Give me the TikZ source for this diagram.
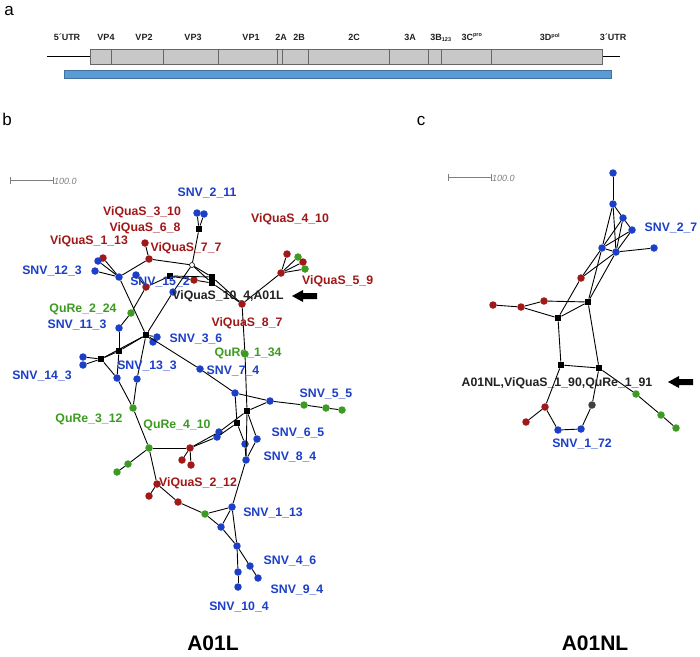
\documentclass[tikz,border=0pt]{standalone}
\usepackage{fontspec}
\setmainfont{Liberation Sans}
\definecolor{cblue}{HTML}{1C3FC8}
\definecolor{cred}{HTML}{A01818}
\definecolor{cgreen}{HTML}{3E9B22}
\definecolor{cgray}{HTML}{C8C8C8}
\definecolor{cbar}{HTML}{5B9BD5}
\definecolor{cbarb}{HTML}{41719C}
\definecolor{ctxt}{HTML}{222222}
\begin{document}
\begin{tikzpicture}[x=1pt,y=-1pt,
  dotb/.style={circle,fill=cblue,inner sep=0,minimum size=7.5pt},
  dotr/.style={circle,fill=cred,inner sep=0,minimum size=7.5pt},
  dotg/.style={circle,fill=cgreen,inner sep=0,minimum size=7.5pt},
  dotk/.style={circle,fill=black!75,inner sep=0,minimum size=7.5pt},
  dotw/.style={circle,draw=black,fill=white,line width=0.6pt,inner sep=0,minimum size=5pt},
  sq/.style={rectangle,fill=black,inner sep=0,minimum size=6.5pt},
  edge/.style={line width=0.9pt,black},
  lbl/.style={font=\fontsize{12.3}{12.3}\selectfont\bfseries,inner sep=0},
  lb/.style={lbl,text=cblue},
  lr/.style={lbl,text=cred},
  lg/.style={lbl,text=cgreen},
  lk/.style={lbl,text=ctxt},
  gl/.style={font=\fontsize{9}{9}\selectfont\bfseries,inner sep=0,text=ctxt},
  panel/.style={font=\fontsize{17}{17}\selectfont,inner sep=0},
  big/.style={font=\fontsize{21}{21}\selectfont\bfseries,inner sep=0},
  sbar/.style={draw=gray,line width=0.9pt},
  stxt/.style={font=\fontsize{9}{9}\selectfont\itshape,text=gray,inner sep=0,anchor=west}
]
\useasboundingbox (0,0) rectangle (700,656);
\fill[white] (0,0) rectangle (700,656);

% ---------------- panel a ----------------
\node[panel] (pa) at (9,11) {a};
\draw[line width=0.8pt] (47,56.5) -- (620,56.5);
\draw[fill=cgray,draw=black!60,line width=0.8pt] (90,49) rectangle (602,64);
\foreach \xx in {111,163.5,218,277,282,308,389,428,441,491}
  \draw[black!60,line width=0.8pt] (\xx,49) -- (\xx,64);
\draw[fill=cbar,draw=cbarb,line width=0.8pt] (64,70.5) rectangle (611,78);
\node[gl] (g1) at (67,37) {5´UTR};
\node[gl] (g2) at (106,37) {VP4};
\node[gl] (g3) at (144,37) {VP2};
\node[gl] (g4) at (193,37) {VP3};
\node[gl] (g5) at (251,37) {VP1};
\node[gl] (g6) at (281,37) {2A};
\node[gl] (g7) at (299,37) {2B};
\node[gl] (g8) at (354,37) {2C};
\node[gl] (g9) at (410,37) {3A};
\node[gl] (g10) at (441,37.5) {3B\textsubscript{\fontsize{5.5}{5.5}\selectfont 123}};
\node[gl] (g11) at (472,37) {3C\textsuperscript{\fontsize{5.5}{5.5}\selectfont pro}};
\node[gl] (g12) at (550,37) {3D\textsuperscript{\fontsize{5.5}{5.5}\selectfont pol}};
\node[gl] (g13) at (613,37) {3´UTR};

% ---------------- panel b ----------------
\node[panel] (pb) at (7,119) {b};
\draw[sbar] (10,180) -- (53,180) (10,176.5) -- (10,183.5) (53,176.5) -- (53,183.5);
\node[stxt] (sb) at (54,181.5) {100.0};

% nodes
\node[dotb] (b1) at (197,213) {};
\node[dotb] (b2) at (204,214) {};
\node[sq] (s1) at (199,229) {};
\node[dotw] (w1) at (192,265) {};
\node[dotr] (r1) at (145,243) {};
\node[dotr] (r2) at (149,259) {};
\node[dotr] (r3) at (103,258) {};
\node[dotb] (b3) at (98,261) {};
\node[dotb] (b4) at (95,271) {};
\node[dotb] (b5) at (119,277) {};
\node[dotb] (b6) at (136,275) {};
\node[dotr] (r4) at (146,287) {};
\node[sq] (s2) at (170,276) {};
\node[dotr] (r5) at (194,280) {};
\node[sq] (s3) at (212,277) {};
\node[sq] (s4) at (212,283) {};
\node[dotb] (b7) at (173,292) {};
\node[dotr] (r6) at (242,304) {};
\node[dotr] (r7) at (281,273) {};
\node[dotr] (r8) at (287,254) {};
\node[dotg] (gg1) at (298,257) {};
\node[dotr] (r9) at (303,262) {};
\node[dotg] (gg2) at (305,269) {};
\node[dotg] (gg3) at (131,313) {};
\node[dotb] (b8) at (119,328) {};
\node[sq] (s5) at (146,335) {};
\node[dotb] (b9) at (157,337) {};
\node[dotb] (b10) at (153,342) {};
\node[sq] (s6) at (119,351) {};
\node[sq] (s7) at (101,359) {};
\node[dotb] (b11) at (83,357) {};
\node[dotb] (b12) at (83,365) {};
\node[dotb] (b13) at (117,378) {};
\node[dotb] (b14) at (137,379) {};
\node[dotg] (gg4) at (133,408) {};
\node[dotb] (b15) at (200,369) {};
\node[dotg] (gg5) at (245,354) {};
\node[dotb] (b16) at (235,393) {};
\node[dotb] (b17) at (270,401) {};
\node[dotg] (gg6) at (304,405) {};
\node[dotg] (gg7) at (326,408) {};
\node[dotg] (gg8) at (342,410) {};
\node[sq] (s8) at (247,411) {};
\node[sq] (s9) at (237,423) {};
\node[dotb] (b18) at (219,432) {};
\node[dotb] (b19) at (217,437) {};
\node[dotr] (r10) at (190,448) {};
\node[dotr] (r11) at (182,460) {};
\node[dotr] (r12) at (191,465) {};
\node[dotg] (gg9) at (149,448) {};
\node[dotg] (gg10) at (128,464) {};
\node[dotg] (gg11) at (117,472) {};
\node[dotb] (b20) at (245,444) {};
\node[dotb] (b21) at (257,439) {};
\node[dotb] (b22) at (246,460) {};
\node[dotr] (r13) at (157,484) {};
\node[dotr] (r14) at (149,496) {};
\node[dotr] (r15) at (178,502) {};
\node[dotg] (gg12) at (205,514) {};
\node[dotb] (b23) at (232,507) {};
\node[dotb] (w2) at (221,527) {};
\node[dotb] (b24) at (237,546) {};
\node[dotb] (b25) at (250,566) {};
\node[dotb] (b26) at (258,578) {};
\node[dotb] (b27) at (238,572) {};
\node[dotb] (b28) at (238,587) {};

% edges
\draw[edge] (b5) -- (r3);
\draw[edge] (b5) -- (b3);
\draw[edge] (b5) -- (b4);
\draw[edge] (b5) -- (r2);
\draw[edge] (r2) -- (r1);
\draw[edge] (r2) -- (w1);
\draw[edge] (s1) -- (b1);
\draw[edge] (s1) -- (b2);
\draw[edge] (s1) -- (w1);
\draw[edge] (w1) -- (s3);
\draw[edge] (w1) -- (s4);
\draw[edge] (w1) -- (b7);
\draw[edge] (s2) -- (r5);
\draw[edge] (r5) -- (s4);
\draw[edge] (s2) -- (s3);
\draw[edge] (s2) -- (r4);
\draw[edge] (r4) -- (b6);
\draw[edge] (s3) -- (r6);
\draw[edge] (s4) -- (r6);
\draw[edge] (r6) -- (r7);
\draw[edge] (r7) -- (r8);
\draw[edge] (r7) -- (gg1);
\draw[edge] (r7) -- (r9);
\draw[edge] (r7) -- (gg2);
\draw[edge] (r6) -- (gg5);
\draw[edge] (gg5) -- (s8);
\draw[edge] (b5) -- (s5);
\draw[edge] (b7) -- (s5);
\draw[edge] (r4) -- (gg3);
\draw[edge] (gg3) -- (b8);
\draw[edge] (b8) -- (s6);
\draw[edge] (s6) -- (s5);
\draw[edge] (s7) -- (s5);
\draw[edge] (s7) -- (s6);
\draw[edge] (s7) -- (b11);
\draw[edge] (s7) -- (b12);
\draw[edge] (s7) -- (b13);
\draw[edge] (s6) -- (b13);
\draw[edge] (b13) -- (gg4);
\draw[edge] (s5) -- (b14);
\draw[edge] (b14) -- (gg4);
\draw[edge] (s5) -- (b9);
\draw[edge] (s5) -- (b10);
\draw[edge] (s5) -- (b15);
\draw[edge] (b15) -- (b16);
\draw[edge] (gg4) -- (gg9);
\draw[edge] (gg9) -- (r10);
\draw[edge] (gg9) -- (gg10);
\draw[edge] (gg10) -- (gg11);
\draw[edge] (r10) -- (r11);
\draw[edge] (r10) -- (r12);
\draw[edge] (r10) -- (b19);
\draw[edge] (b19) -- (s9);
\draw[edge] (r10) -- (b18);
\draw[edge] (b18) -- (s8);
\draw[edge] (s8) -- (b17);
\draw[edge] (b16) -- (b17);
\draw[edge] (b16) -- (s9);
\draw[edge] (s9) -- (b20);
\draw[edge] (s8) -- (b22);
\draw[edge] (b20) -- (b22);
\draw[edge] (s8) -- (b21);
\draw[edge] (b21) -- (b22);
\draw[edge] (b17) -- (gg6);
\draw[edge] (gg6) -- (gg7);
\draw[edge] (gg7) -- (gg8);
\draw[edge] (b22) -- (b23);
\draw[edge] (gg9) -- (r13);
\draw[edge] (r13) -- (r14);
\draw[edge] (r13) -- (r15);
\draw[edge] (r15) -- (gg12);
\draw[edge] (gg12) -- (b23);
\draw[edge] (gg12) -- (w2);
\draw[edge] (w2) -- (b24);
\draw[edge] (b23) -- (w2);
\draw[edge] (b23) -- (b24);
\draw[edge] (b24) -- (b27);
\draw[edge] (b27) -- (b28);
\draw[edge] (b24) -- (b25);
\draw[edge] (b25) -- (b26);

% labels
\node[lb] (l1) at (207,193) {SNV\_2\_11};
\node[lr] (l2) at (142,212) {ViQuaS\_3\_10};
\node[lr] (l3) at (145,228) {ViQuaS\_6\_8};
\node[lr] (l4) at (89,241) {ViQuaS\_1\_13};
\node[lr] (l5) at (186,248) {ViQuaS\_7\_7};
\node[lr] (l6) at (290,219) {ViQuaS\_4\_10};
\node[lb] (l7) at (52,271) {SNV\_12\_3};
\node[lb] (l8) at (160,282) {SNV\_15\_2};
\node[lk] (l9) at (228,296) {ViQuaS\_10\_4,A01L};
\node[lr,anchor=west] (l10) at (302,281) {ViQuaS\_5\_9};
\node[lg] (l11) at (83,309) {QuRe\_2\_24};
\node[lb] (l12) at (77,325) {SNV\_11\_3};
\node[lr] (l13) at (247,323) {ViQuaS\_8\_7};
\node[lb] (l14) at (196,339) {SNV\_3\_6};
\node[lg] (l15) at (248,353) {QuRe\_1\_34};
\node[lb] (l16) at (147,366) {SNV\_13\_3};
\node[lb] (l17) at (233,371) {SNV\_7\_4};
\node[lb] (l18) at (42,376) {SNV\_14\_3};
\node[lb] (l19) at (326,394) {SNV\_5\_5};
\node[lg] (l20) at (89,419) {QuRe\_3\_12};
\node[lg] (l21) at (177,425) {QuRe\_4\_10};
\node[lb] (l22) at (298,433) {SNV\_6\_5};
\node[lb] (l23) at (290,457) {SNV\_8\_4};
\node[lr] (l24) at (198,483) {ViQuaS\_2\_12};
\node[lb] (l25) at (273,513) {SNV\_1\_13};
\node[lb] (l26) at (290,561) {SNV\_4\_6};
\node[lb] (l27) at (297,590) {SNV\_9\_4};
\node[lb] (l28) at (239,607) {SNV\_10\_4};
\node[big] (l29) at (213,643) {A01L};
\fill (292,296) -- (303,290) -- (303,293) -- (317,293) -- (317,299) -- (303,299) -- (303,302) -- cycle;

% ---------------- panel c ----------------
\node[panel] (pc) at (421,121) {c};
\draw[sbar] (448,177) -- (491,177) (448,173.5) -- (448,180.5) (491,173.5) -- (491,180.5);
\node[stxt] (sc) at (492,178.5) {100.0};

\node[dotb] (c1) at (613,173) {};
\node[dotb] (c2) at (613,204) {};
\node[dotb] (c3) at (623,218) {};
\node[dotb] (c4) at (632,230) {};
\node[dotb] (c5) at (602,248) {};
\node[dotb] (c6) at (616,252) {};
\node[dotb] (c7) at (654,248) {};
\node[dotr] (cr1) at (581,278) {};
\node[sq] (cs1) at (588,302) {};
\node[sq] (cs2) at (558,318) {};
\node[dotr] (cr2) at (544,301) {};
\node[dotr] (cr3) at (521,307) {};
\node[dotr] (cr4) at (493,305) {};
\node[sq] (cs3) at (561,365) {};
\node[sq] (cs4) at (599,368) {};
\node[dotg] (cg1) at (636,394) {};
\node[dotg] (cg2) at (661,415) {};
\node[dotg] (cg3) at (676,428) {};
\node[dotr] (cr5) at (545,407) {};
\node[dotr] (cr6) at (526,422) {};
\node[dotk] (ck1) at (592,405) {};
\node[dotb] (cb1) at (558,430) {};
\node[dotb] (cb2) at (581,429) {};

\draw[edge] (c1) -- (c2);
\draw[edge] (c2) -- (c3);
\draw[edge] (c3) -- (c4);
\draw[edge] (c2) -- (c5);
\draw[edge] (c2) -- (c6);
\draw[edge] (c3) -- (c5);
\draw[edge] (c4) -- (c5);
\draw[edge] (c4) -- (c6);
\draw[edge] (c3) -- (c6);
\draw[edge] (c5) -- (c6);
\draw[edge] (c6) -- (c7);
\draw[edge] (cs2) -- (cr1);
\draw[edge] (cr1) -- (c5);
\draw[edge] (cr1) -- (c6);
\draw[edge] (cs1) -- (c5);
\draw[edge] (cs1) -- (c6);
\draw[edge] (cs1) -- (cr2);
\draw[edge] (cs2) -- (cs1);
\draw[edge] (cs2) -- (cr3);
\draw[edge] (cr2) -- (cr3);
\draw[edge] (cr3) -- (cr4);
\draw[edge] (cs2) -- (cs3);
\draw[edge] (cs1) -- (cs4);
\draw[edge] (cs3) -- (cs4);
\draw[edge] (cs4) -- (cg1);
\draw[edge] (cg1) -- (cg2);
\draw[edge] (cg2) -- (cg3);
\draw[edge] (cs3) -- (cr5);
\draw[edge] (cr5) -- (cr6);
\draw[edge] (cr5) -- (cb1);
\draw[edge] (cb1) -- (cb2);
\draw[edge] (cb2) -- (ck1);
\draw[edge] (ck1) -- (cs4);

\node[lb] (m1) at (671,228) {SNV\_2\_7};
\node[lk] (m2) at (557,383) {A01NL,ViQuaS\_1\_90,QuRe\_1\_91};
\node[lb] (m3) at (582,444) {SNV\_1\_72};
\node[big] (m4) at (595,643) {A01NL};
\fill (668,382) -- (679,376) -- (679,379) -- (693,379) -- (693,385) -- (679,385) -- (679,388) -- cycle;
\end{tikzpicture}
\end{document}
